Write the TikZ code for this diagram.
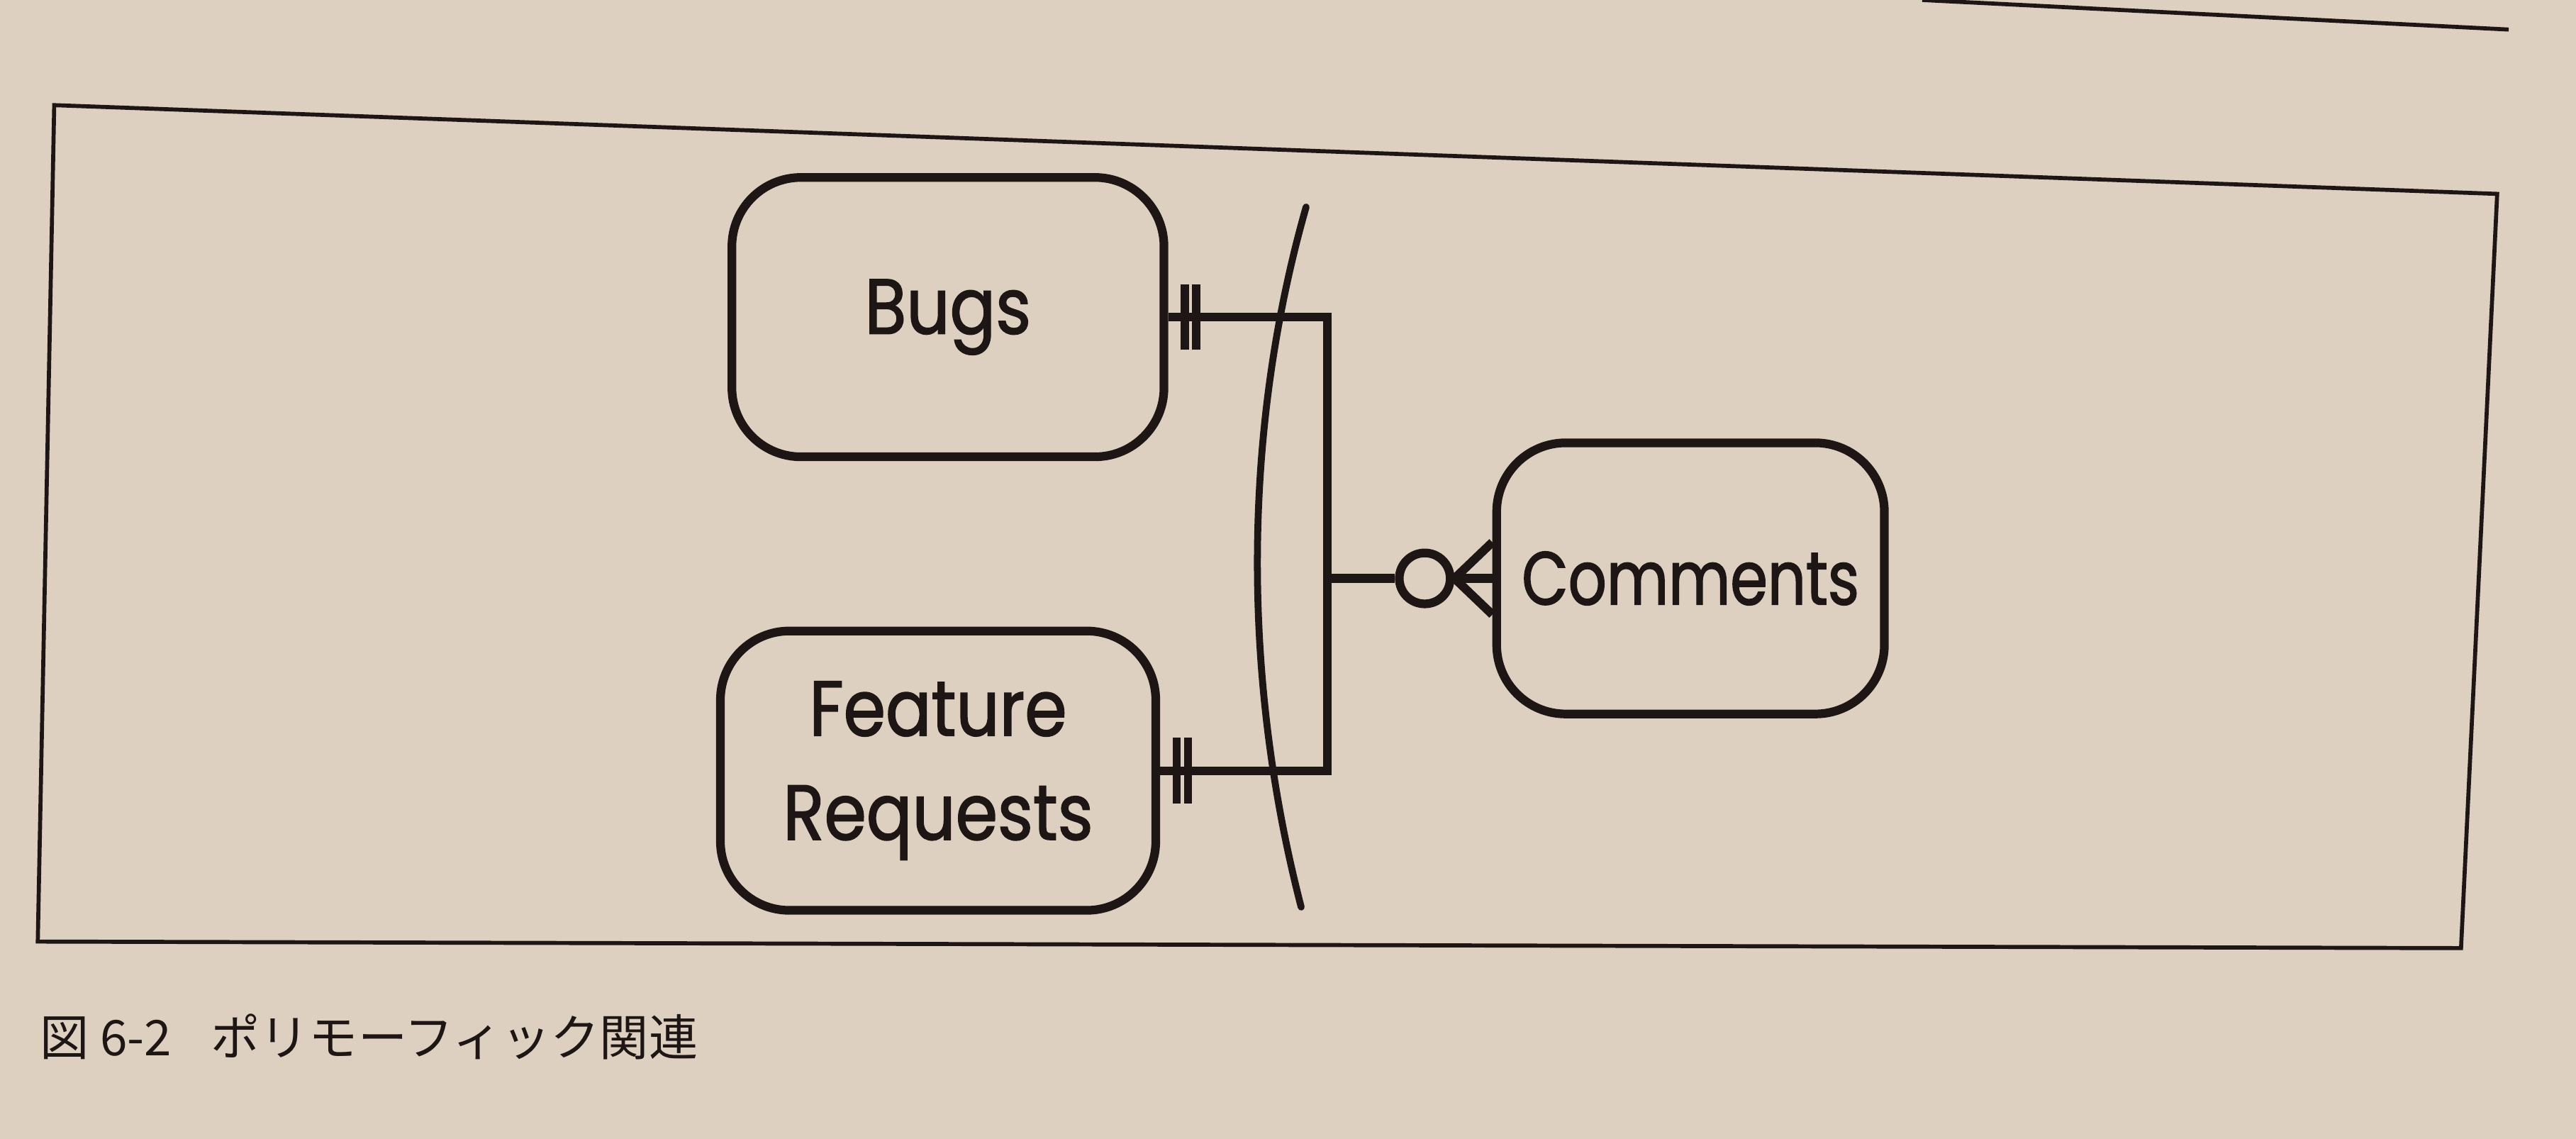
\documentclass[tikz,border=0pt]{standalone}
\usepackage{fontspec}
\setmainfont{Poppins}
\newfontfamily\labelfont{Poppins}[FakeStretch=0.87, FakeBold=1.5]
\newfontfamily\narrowfont{Poppins}[FakeStretch=0.8, FakeBold=1.5]
\newfontfamily\jpfont{Noto Sans CJK JP}
\usetikzlibrary{arrows.meta, positioning, calc, shapes.geometric}
\definecolor{paper}{RGB}{221,208,193}
\definecolor{ink}{RGB}{30,22,20}
\tikzset{
  entity/.style={draw=ink, line width=1.5pt, rounded corners=0.42cm, minimum width=#1,
    minimum height=1.7cm, inner sep=0pt, text=ink, align=center,
    font=\labelfont\fontsize{13.5}{18}\selectfont},
  link/.style={draw=ink, line width=1.5pt},
  onebar/.style={draw=ink, line width=1.4pt},
  zeroring/.style={draw=ink, circle, line width=1.5pt, minimum size=0.31cm, inner sep=0pt},
  frameline/.style={draw=ink, line width=0.7pt},
}

\begin{document}
\begin{tikzpicture}
    \useasboundingbox (0,0) rectangle (15.68,6.93);
    \fill[paper] (0,0) rectangle (15.68,6.93);
    % page rule and figure frame
    \draw[frameline] (11.7,6.93) -- (15.27,6.75);
    \draw[frameline] (0.33,6.29) -- (15.20,5.75) -- (14.98,1.16) -- (0.23,1.20) -- cycle;

    \node[entity=2.63cm] (bugs) at (5.77,5.00) {Bugs};
    \node[entity=2.65cm] (freq) at (5.71,2.24) {Feature\\Requests};
    \node[entity=2.36cm, minimum height=1.65cm, font=\narrowfont\fontsize{13}{18}\selectfont]
      (comm) at (10.29,3.41) {Comments};

    \coordinate (bustop) at (8.08,5.00);
    \coordinate (busmid) at (8.08,3.41);
    \coordinate (busbot) at (8.08,2.24);
    \node[zeroring, left=0.23cm of comm] (zero) {};

    % relationship lines
    \draw[link] (bugs.east) -- (bustop) -- (busbot) -- (freq.east);
    \draw[link] (busmid) -- (zero.west);
    \draw[link] (zero.east) -- (comm.west);
    \draw[link] (zero.east) -- ($(comm.west)+(0,0.22)$);
    \draw[link] (zero.east) -- ($(comm.west)+(0,-0.22)$);
    \foreach \n in {bugs,freq}{
      \draw[onebar] ($(\n.east)+(0.10,0.2)$) -- ++(0,-0.4);
      \draw[onebar] ($(\n.east)+(0.17,0.2)$) -- ++(0,-0.4);
    }

    % polymorphic arc
    \draw[ink, line width=1.2pt, line cap=round]
      (7.95,5.67) .. controls (7.56,4.3) and (7.56,2.8) .. (7.92,1.41);

    \node[anchor=west, text=ink, font=\jpfont\fontsize{8.5}{10}\selectfont] (caption)
      at (0.12,0.62) {図 6-2\hspace{0.8em}ポリモーフィック関連};
\end{tikzpicture}
\end{document}
